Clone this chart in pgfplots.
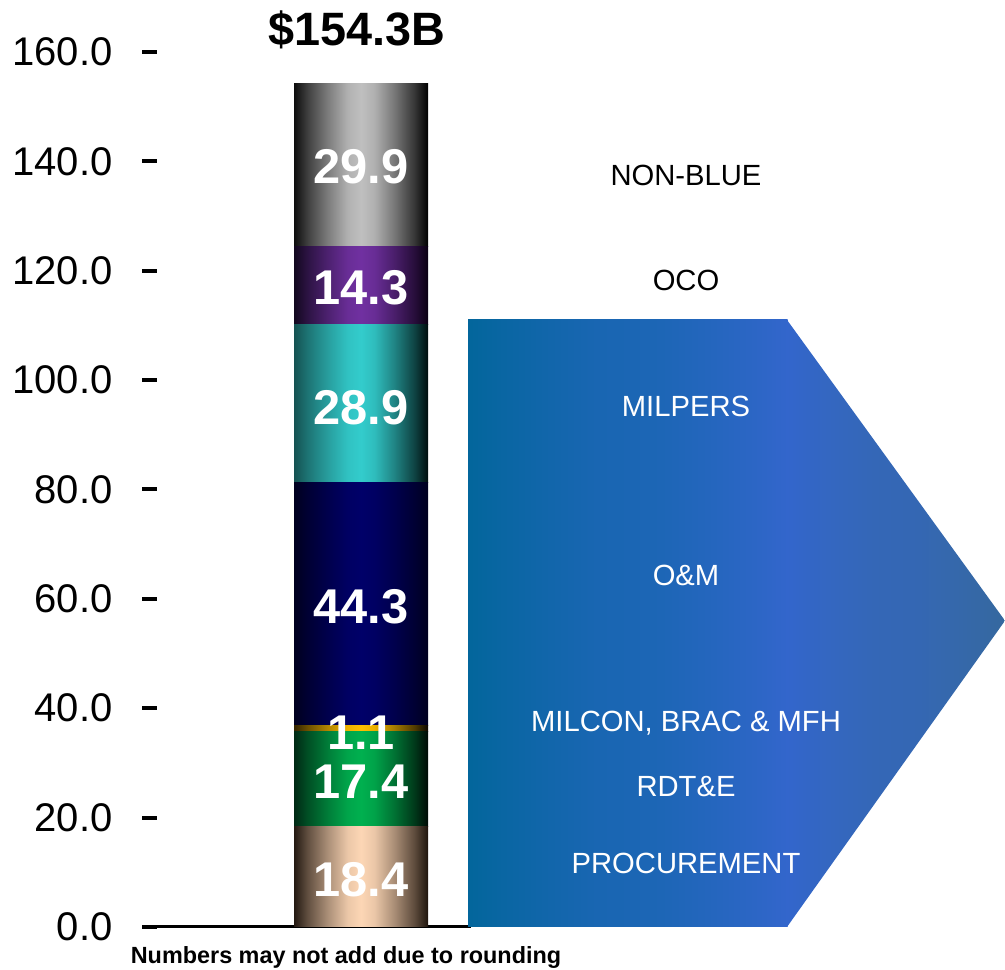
\documentclass[border=0pt]{standalone}
\usepackage{pgfplots}
\pgfplotsset{compat=1.18}
\usepackage{fontspec}
\setmainfont{Liberation Sans}

\makeatletter
\pgfdeclareverticalshading[tikz@axis@top,tikz@axis@middle,tikz@axis@bottom]{axis}{100bp}{%
  color(0bp)=(tikz@axis@bottom);
  color(25bp)=(tikz@axis@bottom);
  color(30bp)=(tikz@axis@middle!28!tikz@axis@bottom);
  color(37.5bp)=(tikz@axis@middle!62!tikz@axis@bottom);
  color(45bp)=(tikz@axis@middle!92!tikz@axis@bottom);
  color(50bp)=(tikz@axis@middle);
  color(55bp)=(tikz@axis@middle!92!tikz@axis@top);
  color(62.5bp)=(tikz@axis@middle!62!tikz@axis@top);
  color(70bp)=(tikz@axis@middle!28!tikz@axis@top);
  color(75bp)=(tikz@axis@top);
  color(100bp)=(tikz@axis@top)}
\makeatother

\definecolor{peachL}{rgb}{0.14,0.1,0.07}
\definecolor{peachM}{rgb}{0.99,0.84,0.71}
\definecolor{peachR}{rgb}{0.12,0.08,0.05}
\definecolor{greenL}{rgb}{0,0.16,0.08}
\definecolor{greenM}{rgb}{0,0.69,0.31}
\definecolor{greenR}{rgb}{0,0.04,0.02}
\definecolor{goldL}{rgb}{0.2,0.14,0}
\definecolor{goldM}{rgb}{1,0.75,0}
\definecolor{goldR}{rgb}{0.05,0.03,0}
\definecolor{navyL}{rgb}{0,0,0.12}
\definecolor{navyM}{rgb}{0,0,0.41}
\definecolor{navyR}{rgb}{0,0,0.12}
\definecolor{cyanL}{rgb}{0.08,0.32,0.32}
\definecolor{cyanM}{rgb}{0.2,0.8,0.8}
\definecolor{cyanR}{rgb}{0,0.05,0.05}
\definecolor{purpL}{rgb}{0.07,0.03,0.12}
\definecolor{purpM}{rgb}{0.44,0.19,0.63}
\definecolor{purpR}{rgb}{0.04,0,0.07}
\definecolor{grayL}{rgb}{0.05,0.05,0.05}
\definecolor{grayM}{rgb}{0.75,0.75,0.75}
\definecolor{grayR}{rgb}{0,0,0}
\definecolor{arrL}{rgb}{0.01,0.4,0.61}
\definecolor{arrM}{rgb}{0.2,0.4,0.8}
\definecolor{arrR}{rgb}{0.21,0.41,0.62}

\begin{document}
\begin{tikzpicture}
\begin{axis}[
  scale only axis,
  width=427.5pt, height=437.5pt,
  xmin=150, xmax=1005, ymin=0, ymax=160,
  axis line style={draw=none},
  xtick=\empty,
  ytick={0,20,...,160},
  ytick pos=left,
  tick align=center,
  major tick length=7.5pt,
  tick style={line width=2pt, black},
  yticklabel style={xshift=-11.5pt, /pgf/number format/.cd, fixed, fixed zerofill, precision=1, assume math mode=true},
  ticklabel style={font=\fontsize{20}{24}\selectfont, text=black},
  clip=false,
  ybar stacked, bar width=134,
]
\addplot[draw=none, left color=peachL, right color=peachR, middle color=peachM] coordinates {(361,18.4)};
\addplot[draw=none, left color=greenL, right color=greenR, middle color=greenM] coordinates {(361,17.4)};
\addplot[draw=none, left color=goldL, right color=goldR, middle color=goldM] coordinates {(361,1.1)};
\addplot[draw=none, left color=navyL, right color=navyR, middle color=navyM] coordinates {(361,44.3)};
\addplot[draw=none, left color=cyanL, right color=cyanR, middle color=cyanM] coordinates {(361,28.9)};
\addplot[draw=none, left color=purpL, right color=purpR, middle color=purpM] coordinates {(361,14.3)};
\addplot[draw=none, left color=grayL, right color=grayR, middle color=grayM] coordinates {(361,29.9)};

\path (axis cs:0,-7.862) rectangle (axis cs:1005,169.5);

\shade[left color=arrL, right color=arrM] (axis cs:468,0) rectangle (axis cs:787.5,111);
\shade[left color=arrM, right color=arrR] (axis cs:787,0) -- (axis cs:787,111) -- (axis cs:1005,56) -- cycle;
\draw[line width=1.5pt, black] (axis cs:145,0) -- (axis cs:471,0);

\coordinate (v1) at (axis cs:361,139.1);
\coordinate (v2) at (axis cs:361,116.8);
\coordinate (v3) at (axis cs:361,95.0);
\coordinate (v4) at (axis cs:361,58.5);
\coordinate (v5) at (axis cs:361,35.5);
\coordinate (v6) at (axis cs:361,26.5);
\coordinate (v7) at (axis cs:361,8.6);
\coordinate (tt) at (axis cs:357,164.0);
\coordinate (nt) at (axis cs:346,-5.67);
\coordinate (c1) at (axis cs:686,137.5);
\coordinate (c2) at (axis cs:686,118.3);
\coordinate (c3) at (axis cs:686,95.1);
\coordinate (c4) at (axis cs:686,64.2);
\coordinate (c5) at (axis cs:686,37.3);
\coordinate (c6) at (axis cs:686,25.6);
\coordinate (c7) at (axis cs:686,11.7);
\end{axis}

\begin{scope}[every node/.style={font=\fontsize{24.4}{28}\selectfont\bfseries, text=white, inner sep=0pt}]
\node at (v1) {29.9};
\node at (v2) {14.3};
\node at (v3) {28.9};
\node at (v4) {44.3};
\node at (v5) {1.1};
\node at (v6) {17.4};
\node at (v7) {18.4};
\end{scope}

\node[font=\fontsize{23.4}{27}\selectfont\bfseries, inner sep=0pt] at (tt) {\$154.3B};
\node[font=\fontsize{11.7}{14}\selectfont\bfseries, inner sep=0pt] at (nt) {Numbers may not add due to rounding};

\begin{scope}[every node/.style={font=\fontsize{14.6}{17}\selectfont, inner sep=0pt}]
\node[text=black] at (c1) {NON-BLUE};
\node[text=black] at (c2) {OCO};
\node[text=white] at (c3) {MILPERS};
\node[text=white] at (c4) {O\&M};
\node[text=white] at (c5) {MILCON, BRAC \& MFH};
\node[text=white] at (c6) {RDT\&E};
\node[text=white] at (c7) {PROCUREMENT};
\end{scope}
\end{tikzpicture}
\end{document}
